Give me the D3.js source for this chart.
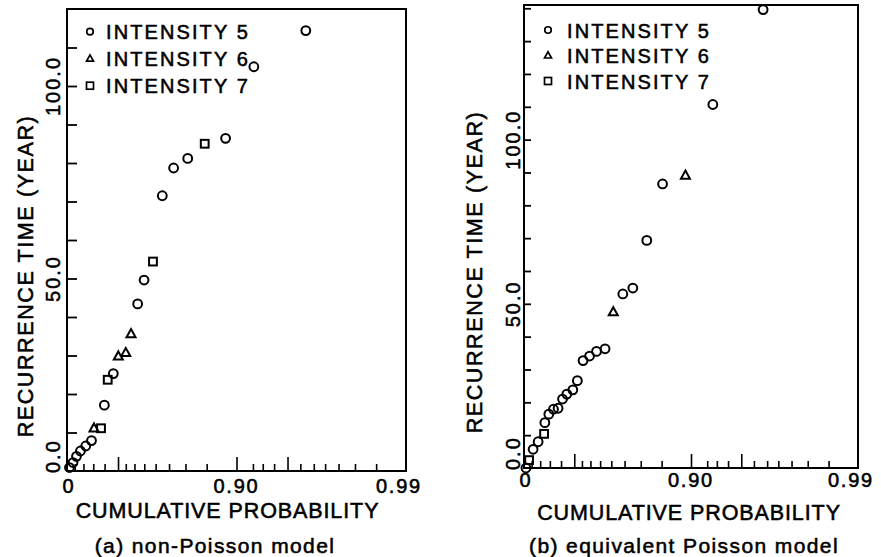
<!DOCTYPE html>
<html><head><meta charset="utf-8">
<script src="https://cdn.jsdelivr.net/npm/d3@7"></script>
<style>
html,body{margin:0;padding:0;background:#fff;}
text{font-family:"Liberation Sans",Arial,sans-serif;fill:#000;stroke:#000;stroke-width:0.55px;}
</style></head>
<body>
<script>
// ---------- data ----------
const seriesNames = ["INTENSITY 5", "INTENSITY 6", "INTENSITY 7"];
const xTickLabels = ["0", "0.90", "0.99"];
const xTickLabelProbs = [0, 0.90, 0.99];
const xMinorTickProbs = [0.1, 0.2, 0.3, 0.4, 0.55, 0.6, 0.65, 0.7, 0.75, 0.8, 0.85, 0.92, 0.93, 0.94, 0.958, 0.965, 0.97, 0.975, 0.98, 0.985];
const xMajorTickProbs = [0.5, 0.9, 0.95];
const yTickLabels = ["0.0", "50.0", "100.0"];
const yTickLabelValues = [0, 50, 100];
const yAxisTitle = "RECURRENCE  TIME  (YEAR)";
const xAxisTitle = "CUMULATIVE  PROBABILITY";
const captionA = "(a) non-Poisson model";
const captionB = "(b) equivalent  Poisson model";

// (a) non-Poisson model
const probA5 = [0.033, 0.078, 0.121, 0.167, 0.225, 0.283, 0.398, 0.467, 0.617, 0.649, 0.726, 0.765, 0.806, 0.884, 0.921, 0.961];
const timeA5 = [0.9, 2.2, 3.8, 5.2, 6.5, 7.9, 17.1, 25.3, 43.4, 49.6, 71.5, 78.7, 81.2, 86.4, 105.0, 114.4];
const probA6 = [0.307, 0.502, 0.550, 0.581];
const timeA6 = [11.1, 29.8, 30.7, 35.6];
const probA7 = [0.370, 0.425, 0.689, 0.846];
const timeA7 = [11.1, 23.7, 54.4, 85.0];

// (b) equivalent Poisson model
const probB5 = [0.027, 0.118, 0.177, 0.25, 0.29, 0.334, 0.375, 0.412, 0.446, 0.49, 0.521, 0.557, 0.595, 0.632, 0.673, 0.744, 0.777, 0.816, 0.852, 0.926, 0.963];
const timeB5 = [0, 5.7, 8.0, 13.8, 16.4, 17.9, 18.2, 21.0, 22.5, 23.8, 26.6, 32.7, 34.1, 35.5, 36.3, 53.0, 54.8, 69.3, 86.5, 110.7, 139.6];
const probB6 = [0.708, 0.892];
const timeB6 = [47.5, 89.1];
const probB7 = [0.068, 0.242];
const timeB7 = [2.4, 10.4];

// ---------- drawing ----------
const svg = d3.select("body").append("svg").attr("width", 881).attr("height", 557);
const tr = p => -Math.log(1 - p); // exponential probability paper
const shapes = ["circle", "triangle", "square"];

function marker(g, shape, cx, cy, s, sw) {
  if (shape === "circle") {
    g.append("circle").attr("cx", cx).attr("cy", cy).attr("r", s / 2)
      .attr("fill", "none").attr("stroke", "#000").attr("stroke-width", sw);
  } else if (shape === "triangle") {
    const h = s * 0.9;
    g.append("path").attr("d", `M${cx},${cy - h * 0.6}L${cx + s / 2},${cy + h * 0.4}L${cx - s / 2},${cy + h * 0.4}Z`)
      .attr("fill", "none").attr("stroke", "#000").attr("stroke-width", sw).attr("stroke-linejoin", "miter");
  } else {
    g.append("rect").attr("x", cx - s / 2).attr("y", cy - s / 2).attr("width", s).attr("height", s)
      .attr("fill", "none").attr("stroke", "#000").attr("stroke-width", sw);
  }
}

function panel(cfg) {
  const g = svg.append("g");
  const x = d3.scaleLinear().domain([0, tr(0.99)]).range([cfg.x0, cfg.x1]);
  const y = d3.scaleLinear().domain([0, cfg.yMax]).range([cfg.y0, cfg.y1]);

  // frame
  g.append("rect").attr("x", cfg.x0).attr("y", cfg.y1).attr("width", cfg.x1 - cfg.x0).attr("height", cfg.y0 - cfg.y1)
    .attr("fill", "none").attr("stroke", "#000").attr("stroke-width", 2);

  // y ticks (inward)
  const yAxis = d3.axisLeft(y).tickValues(d3.range(10, cfg.yMax, 10)).tickSize(-cfg.yTick).tickFormat("");
  const ya = g.append("g").attr("transform", `translate(${cfg.x0},0)`).call(yAxis);
  ya.select(".domain").remove();
  ya.selectAll("line").attr("stroke-width", 1.8);

  // x ticks (inward)
  const xMinor = d3.axisBottom(x).tickValues(xMinorTickProbs.map(tr)).tickSize(-7).tickFormat("");
  const xa = g.append("g").attr("transform", `translate(0,${cfg.y0})`).call(xMinor);
  xa.select(".domain").remove();
  xa.selectAll("line").attr("stroke-width", 1.6);
  const xMajor = d3.axisBottom(x).tickValues(xMajorTickProbs.map(tr)).tickSize(-14).tickFormat("");
  const xb = g.append("g").attr("transform", `translate(0,${cfg.y0})`).call(xMajor);
  xb.select(".domain").remove();
  xb.selectAll("line").attr("stroke-width", 1.6);

  // x tick labels
  xTickLabels.forEach((lab, i) => {
    const px = x(tr(xTickLabelProbs[i])) + (i === 0 ? 2 : (i === 2 ? -7 : 0));
    g.append("text").attr("x", px).attr("y", cfg.xLabY).attr("text-anchor", "middle")
      .attr("font-size", 20).attr("letter-spacing", 1.8).text(lab);
  });
  // y tick labels (rotated)
  yTickLabels.forEach((lab, i) => {
    const py = y(yTickLabelValues[i]);
    g.append("text").attr("font-size", 20).attr("letter-spacing", 2)
      .attr("transform", `translate(${cfg.yLabX},${i === 0 ? py + 2 : py}) rotate(-90)`)
      .attr("text-anchor", i === 0 ? "start" : "middle").text(lab);
  });

  // axis titles
  g.append("text").attr("x", cfg.xTitleX).attr("y", cfg.xTitleY).attr("text-anchor", "middle")
    .attr("font-size", 21.5).attr("letter-spacing", 0.9).text(xAxisTitle);
  g.append("text").attr("transform", `translate(${cfg.yTitleX},${cfg.yTitleMid}) rotate(-90)`).attr("text-anchor", "middle")
    .attr("font-size", 21.5).attr("letter-spacing", 1.6).text(yAxisTitle);
  g.append("text").attr("x", cfg.capX).attr("y", 553).attr("text-anchor", "middle")
    .attr("font-size", 21).attr("letter-spacing", 1.4).text(cfg.caption);

  // legend
  seriesNames.forEach((nm, i) => {
    const ly = cfg.legY + i * cfg.legDy;
    marker(g, shapes[i], cfg.legMX, ly, shapes[i] === "circle" ? 6.5 : 7, 1.7);
    g.append("text").attr("x", cfg.legTX).attr("y", ly + 7.5).attr("font-size", 20).attr("letter-spacing", 2.1).text(nm);
  });

  // points
  cfg.series.forEach((s, k) => {
    s.p.forEach((p, j) => marker(g, shapes[k], x(tr(p)), y(s.t[j]), shapes[k] === "circle" ? 8.8 : (shapes[k] === "triangle" ? 9 : 7.8), 2));
  });
}

panel({
  x0: 67, x1: 406, y0: 471, y1: 9, yMax: 120, yTick: 10,
  xLabY: 493, yLabX: 60, xTitleX: 227.5, xTitleY: 518, yTitleX: 33, yTitleMid: 276,
  capX: 215, caption: captionA,
  legY: 31.7, legDy: 27, legMX: 90, legTX: 106,
  series: [{p: probA5, t: timeA5}, {p: probA6, t: timeA6}, {p: probA7, t: timeA7}]
});
panel({
  x0: 524, x1: 858, y0: 468, y1: 5, yMax: 141, yTick: 7,
  xLabY: 487, yLabX: 520, xTitleX: 689, xTitleY: 520, yTitleX: 482, yTitleMid: 272,
  capX: 684, caption: captionB,
  legY: 30, legDy: 25.5, legMX: 548, legTX: 567,
  series: [{p: probB5, t: timeB5}, {p: probB6, t: timeB6}, {p: probB7, t: timeB7}]
});
</script>
</body></html>
